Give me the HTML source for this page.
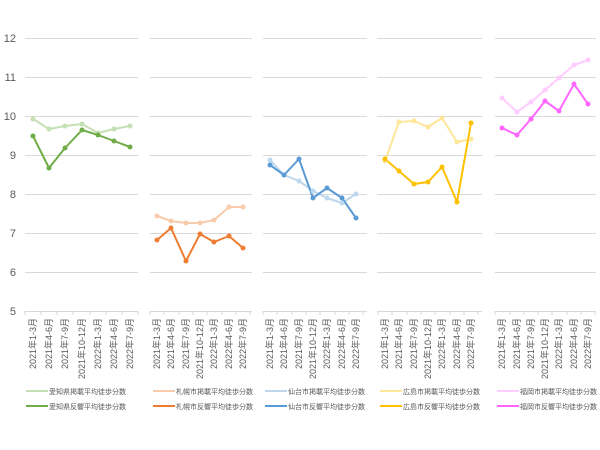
<!DOCTYPE html><html><head><meta charset="utf-8"><style>body{margin:0;background:#fff}svg{display:block;font-family:"Liberation Sans","Noto Sans CJK JP",sans-serif}</style></head><body>
<svg width="600" height="450" viewBox="0 0 600 450">
<g fill="#595959" font-size="11" text-anchor="end">
<text x="16" y="42">12</text><text x="16" y="81">11</text><text x="16" y="120">10</text><text x="16" y="159">9</text><text x="16" y="198">8</text><text x="16" y="237">7</text><text x="16" y="276">6</text><text x="16" y="315">5</text></g>
<g stroke="#d9d9d9" stroke-width="1">
<path d="M25 38.5H138M25 77.5H138M25 116.5H138M25 155.5H138M25 194.5H138M25 233.5H138M25 272.5H138"/>
<path d="M150 38.5H252M150 77.5H252M150 116.5H252M150 155.5H252M150 194.5H252M150 233.5H252M150 272.5H252"/>
<path d="M263 38.5H367M263 77.5H367M263 116.5H367M263 155.5H367M263 194.5H367M263 233.5H367M263 272.5H367"/>
<path d="M377 38.5H482M377 77.5H482M377 116.5H482M377 155.5H482M377 194.5H482M377 233.5H482M377 272.5H482"/>
<path d="M495 38.5H596M495 77.5H596M495 116.5H596M495 155.5H596M495 194.5H596M495 233.5H596M495 272.5H596"/>
<path d="M25 311.5H138M150 311.5H252M263 311.5H367M377 311.5H482M495 311.5H596"/>
<path d="M25 311v4M41 311v4M57 311v4M73 311v4M90 311v4M106 311v4M122 311v4M138 311v4M150 311v4M164 311v4M179 311v4M193 311v4M207 311v4M222 311v4M236 311v4M250 311v4M263 311v4M277 311v4M292 311v4M306 311v4M320 311v4M335 311v4M349 311v4M363 311v4M378 311v4M392 311v4M407 311v4M421 311v4M435 311v4M450 311v4M464 311v4M478 311v4M495 311v4M510 311v4M524 311v4M538 311v4M552 311v4M567 311v4M581 311v4M595 311v4"/>
</g>
<g fill="none" stroke-width="2" stroke-linejoin="round">
<polyline stroke="#c5e0b4" points="33,119 49,129 65,126 82,124 98,133 114,129 130,126"/>
<polyline stroke="#70ad47" points="33,136 49,168 65,148 82,130 98,135 114,141 130,147"/>
<polyline stroke="#f8cbad" points="157,216 171,221 186,223 200,223 214,220 229,207 243,207"/>
<polyline stroke="#ed7d31" points="157,240 171,228 186,261 200,234 214,242 229,236 243,248"/>
<polyline stroke="#bdd7ee" points="270,160 284,175 299,181 313,191 327,198 342,203 356,194"/>
<polyline stroke="#5b9bd5" points="270,165 284,175 299,159 313,198 327,188 342,198 356,218"/>
<polyline stroke="#ffe699" points="385,161 399,122 414,121 428,127 442,118 457,142 471,139"/>
<polyline stroke="#ffc000" points="385,159 399,171 414,184 428,182 442,167 457,202 471,123"/>
<polyline stroke="#ffccff" points="502,98 517,112 531,102 545,90 559,78 574,65 588,60"/>
<polyline stroke="#ff66ff" points="502,128 517,135 531,119 545,101 559,111 574,84 588,104"/>
</g>
<g>
<g fill="#c5e0b4"><circle cx="33" cy="119" r="2.5"/><circle cx="49" cy="129" r="2.5"/><circle cx="65" cy="126" r="2.5"/><circle cx="82" cy="124" r="2.5"/><circle cx="98" cy="133" r="2.5"/><circle cx="114" cy="129" r="2.5"/><circle cx="130" cy="126" r="2.5"/></g>
<g fill="#70ad47"><circle cx="33" cy="136" r="2.5"/><circle cx="49" cy="168" r="2.5"/><circle cx="65" cy="148" r="2.5"/><circle cx="82" cy="130" r="2.5"/><circle cx="98" cy="135" r="2.5"/><circle cx="114" cy="141" r="2.5"/><circle cx="130" cy="147" r="2.5"/></g>
<g fill="#f8cbad"><circle cx="157" cy="216" r="2.5"/><circle cx="171" cy="221" r="2.5"/><circle cx="186" cy="223" r="2.5"/><circle cx="200" cy="223" r="2.5"/><circle cx="214" cy="220" r="2.5"/><circle cx="229" cy="207" r="2.5"/><circle cx="243" cy="207" r="2.5"/></g>
<g fill="#ed7d31"><circle cx="157" cy="240" r="2.5"/><circle cx="171" cy="228" r="2.5"/><circle cx="186" cy="261" r="2.5"/><circle cx="200" cy="234" r="2.5"/><circle cx="214" cy="242" r="2.5"/><circle cx="229" cy="236" r="2.5"/><circle cx="243" cy="248" r="2.5"/></g>
<g fill="#bdd7ee"><circle cx="270" cy="160" r="2.5"/><circle cx="284" cy="175" r="2.5"/><circle cx="299" cy="181" r="2.5"/><circle cx="313" cy="191" r="2.5"/><circle cx="327" cy="198" r="2.5"/><circle cx="342" cy="203" r="2.5"/><circle cx="356" cy="194" r="2.5"/></g>
<g fill="#5b9bd5"><circle cx="270" cy="165" r="2.5"/><circle cx="284" cy="175" r="2.5"/><circle cx="299" cy="159" r="2.5"/><circle cx="313" cy="198" r="2.5"/><circle cx="327" cy="188" r="2.5"/><circle cx="342" cy="198" r="2.5"/><circle cx="356" cy="218" r="2.5"/></g>
<g fill="#ffe699"><circle cx="385" cy="161" r="2.5"/><circle cx="399" cy="122" r="2.5"/><circle cx="414" cy="121" r="2.5"/><circle cx="428" cy="127" r="2.5"/><circle cx="442" cy="118" r="2.5"/><circle cx="457" cy="142" r="2.5"/><circle cx="471" cy="139" r="2.5"/></g>
<g fill="#ffc000"><circle cx="385" cy="159" r="2.5"/><circle cx="399" cy="171" r="2.5"/><circle cx="414" cy="184" r="2.5"/><circle cx="428" cy="182" r="2.5"/><circle cx="442" cy="167" r="2.5"/><circle cx="457" cy="202" r="2.5"/><circle cx="471" cy="123" r="2.5"/></g>
<g fill="#ffccff"><circle cx="502" cy="98" r="2.5"/><circle cx="517" cy="112" r="2.5"/><circle cx="531" cy="102" r="2.5"/><circle cx="545" cy="90" r="2.5"/><circle cx="559" cy="78" r="2.5"/><circle cx="574" cy="65" r="2.5"/><circle cx="588" cy="60" r="2.5"/></g>
<g fill="#ff66ff"><circle cx="502" cy="128" r="2.5"/><circle cx="517" cy="135" r="2.5"/><circle cx="531" cy="119" r="2.5"/><circle cx="545" cy="101" r="2.5"/><circle cx="559" cy="111" r="2.5"/><circle cx="574" cy="84" r="2.5"/><circle cx="588" cy="104" r="2.5"/></g>
</g>
<g fill="#595959" font-size="9" text-anchor="end">
<text transform="translate(36,318) rotate(-90)">2021年1-3月</text><text transform="translate(52,318) rotate(-90)">2021年4-6月</text><text transform="translate(68,318) rotate(-90)">2021年7-9月</text><text transform="translate(85,318) rotate(-90)">2021年10-12月</text><text transform="translate(101,318) rotate(-90)">2022年1-3月</text><text transform="translate(117,318) rotate(-90)">2022年4-6月</text><text transform="translate(133,318) rotate(-90)">2022年7-9月</text>
<text transform="translate(160,318) rotate(-90)">2021年1-3月</text><text transform="translate(174,318) rotate(-90)">2021年4-6月</text><text transform="translate(189,318) rotate(-90)">2021年7-9月</text><text transform="translate(203,318) rotate(-90)">2021年10-12月</text><text transform="translate(217,318) rotate(-90)">2022年1-3月</text><text transform="translate(232,318) rotate(-90)">2022年4-6月</text><text transform="translate(246,318) rotate(-90)">2022年7-9月</text>
<text transform="translate(273,318) rotate(-90)">2021年1-3月</text><text transform="translate(287,318) rotate(-90)">2021年4-6月</text><text transform="translate(302,318) rotate(-90)">2021年7-9月</text><text transform="translate(316,318) rotate(-90)">2021年10-12月</text><text transform="translate(330,318) rotate(-90)">2022年1-3月</text><text transform="translate(345,318) rotate(-90)">2022年4-6月</text><text transform="translate(359,318) rotate(-90)">2022年7-9月</text>
<text transform="translate(388,318) rotate(-90)">2021年1-3月</text><text transform="translate(402,318) rotate(-90)">2021年4-6月</text><text transform="translate(417,318) rotate(-90)">2021年7-9月</text><text transform="translate(431,318) rotate(-90)">2021年10-12月</text><text transform="translate(445,318) rotate(-90)">2022年1-3月</text><text transform="translate(460,318) rotate(-90)">2022年4-6月</text><text transform="translate(474,318) rotate(-90)">2022年7-9月</text>
<text transform="translate(505,318) rotate(-90)">2021年1-3月</text><text transform="translate(520,318) rotate(-90)">2021年4-6月</text><text transform="translate(534,318) rotate(-90)">2021年7-9月</text><text transform="translate(548,318) rotate(-90)">2021年10-12月</text><text transform="translate(562,318) rotate(-90)">2022年1-3月</text><text transform="translate(577,318) rotate(-90)">2022年4-6月</text><text transform="translate(591,318) rotate(-90)">2022年7-9月</text>
</g>
<g stroke-width="2">
<path stroke="#c5e0b4" d="M26 391H48"/><path stroke="#70ad47" d="M26 406H48"/>
<path stroke="#f8cbad" d="M153 391H175"/><path stroke="#ed7d31" d="M153 406H175"/>
<path stroke="#bdd7ee" d="M265 391H287"/><path stroke="#5b9bd5" d="M265 406H287"/>
<path stroke="#ffe699" d="M380 391H402"/><path stroke="#ffc000" d="M380 406H402"/>
<path stroke="#ffccff" d="M497 391H519"/><path stroke="#ff66ff" d="M497 406H519"/>
</g>
<g fill="#595959" font-size="7">
<text x="49" y="394">愛知県掲載平均徒歩分数</text><text x="49" y="409">愛知県反響平均徒歩分数</text>
<text x="176" y="394">札幌市掲載平均徒歩分数</text><text x="176" y="409">札幌市反響平均徒歩分数</text>
<text x="288" y="394">仙台市掲載平均徒歩分数</text><text x="288" y="409">仙台市反響平均徒歩分数</text>
<text x="403" y="394">広島市掲載平均徒歩分数</text><text x="403" y="409">広島市反響平均徒歩分数</text>
<text x="520" y="394">福岡市掲載平均徒歩分数</text><text x="520" y="409">福岡市反響平均徒歩分数</text>
</g>
</svg></body></html>
